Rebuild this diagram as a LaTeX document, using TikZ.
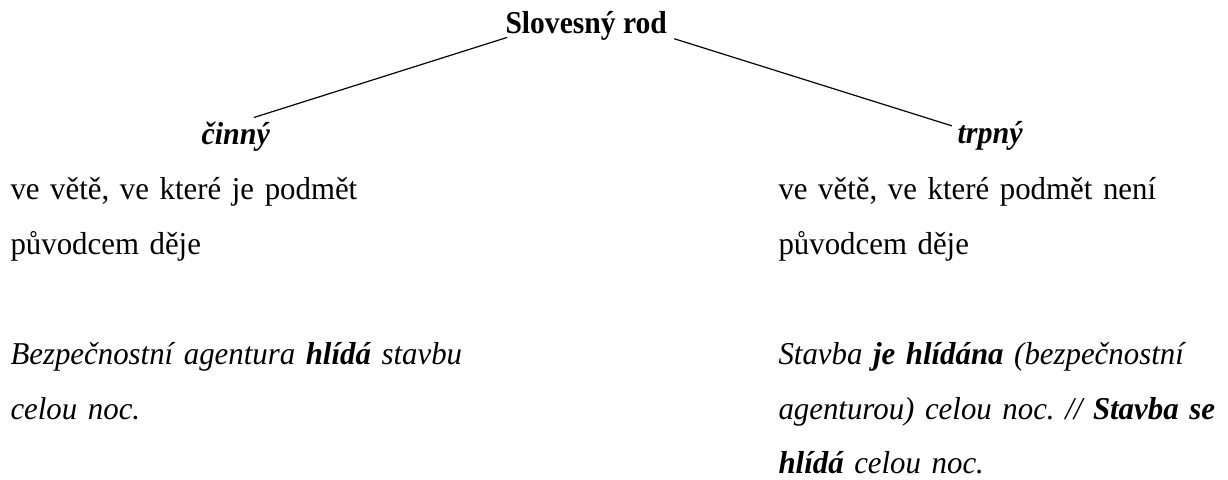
\documentclass[tikz,border=0pt]{standalone}
\usepackage{fontspec}
\setmainfont{Liberation Serif}
\frenchspacing
\usetikzlibrary{positioning}
\tikzset{
  rootlabel/.style={font=\fontsize{12}{13}\selectfont\bfseries\addfontfeature{FakeStretch=0.93},
                    inner sep=0pt, anchor=base west},
  voicelabel/.style={font=\fontsize{12}{13}\selectfont\bfseries\itshape\addfontfeature{FakeStretch=0.945},
                     inner sep=0pt, anchor=base west},
  textblock/.style={font=\fontsize{12}{20.55}\selectfont\addfontfeature{FakeStretch=0.97},
                    inner sep=0pt, anchor=base west, align=left, text width=185pt},
  branch/.style={draw=black, line width=0.45pt},
}
\begin{document}
\begin{tikzpicture}[x=0.3774pt, y=-0.3774pt]
\useasboundingbox (0,0) rectangle (1228,480);
% headings
\node[rootlabel] (root) at (505,34) {Slovesný rod};
\node[voicelabel] (act) at (201,145) {činný};
\node[voicelabel] (pas) at (957,144) {trpný};
% branches
\draw[branch] ([shift={(0.8pt,-1.3pt)}]root.base west) -- ([shift={(6.8pt,1.7pt)}]act.north);
\draw[branch] ([shift={(2.6pt,1pt)}]root.south east) -- ([shift={(-1.9pt,-1.7pt)}]pas.north west);
% left column
\node[textblock] (defAct) at (10,200) {ve větě, ve které je podmět\\původcem děje};
\node[textblock] (exAct) at (10,365) {\itshape Bezpečnostní agentura \textbf{hlídá} stavbu\\celou noc.};
% right column
\node[textblock] (defPas) at (778,200) {ve větě, ve které podmět není\\původcem děje};
\node[textblock] (exPas) at (778,365) {\itshape Stavba \textbf{je hlídána} (bezpečnostní\\agenturou) celou noc. // \textbf{Stavba se}\\\textbf{hlídá} celou noc.};
\end{tikzpicture}
\end{document}
